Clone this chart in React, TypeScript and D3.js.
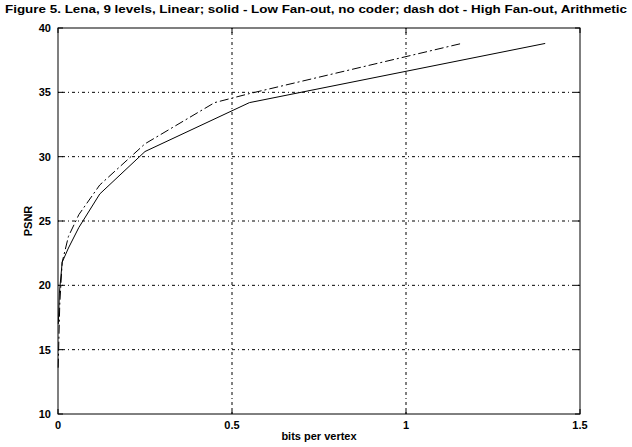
import React, { useEffect, useRef } from 'react';
import * as d3 from 'd3';

// solid - Low Fan-out, no coder
const solidX = [0.001, 0.004, 0.012, 0.03, 0.06, 0.12, 0.25, 0.55, 1.4];
const solidY = [17, 19.4, 21.8, 22.9, 24.5, 27.1, 30.4, 34.2, 38.8];
// dash dot - High Fan-out, Arithmetic
const dashX = [0.0005, 0.005, 0.012, 0.03, 0.06, 0.12, 0.25, 0.45, 0.55, 1.16];
const dashY = [13.6, 18.5, 21.8, 23.8, 25.5, 27.8, 31, 34.2, 34.9, 38.8];

const xTicks = [0, 0.5, 1, 1.5];
const yTicks = [10, 15, 20, 25, 30, 35, 40];

const title = 'Figure 5. Lena, 9 levels, Linear; solid - Low Fan-out, no coder; dash dot - High Fan-out, Arithmetic';

const App = () => {
    const svgRef = useRef<SVGSVGElement>(null);

    useEffect(() => {
        const svg = d3.select(svgRef.current);
        svg.selectAll('*').remove();

        const left = 58, right = 580, top = 28, bottom = 414;
        const x = d3.scaleLinear().domain([0, 1.5]).range([left, right]);
        const y = d3.scaleLinear().domain([10, 40]).range([bottom, top]);
        const font = 'Liberation Sans, Arial, sans-serif';

        svg.append('rect').attr('width', 632).attr('height', 447).attr('fill', '#fff');

        // grid (dash-dot dotted like matlab)
        const gridDash = '1,3,3,3';
        svg.append('g').selectAll('line').data(xTicks.slice(1, -1)).enter().append('line')
            .attr('x1', d => x(d)).attr('x2', d => x(d)).attr('y1', top).attr('y2', bottom)
            .attr('stroke', '#000').attr('stroke-width', 1).attr('stroke-dasharray', gridDash);
        svg.append('g').selectAll('line').data(yTicks.slice(1, -1)).enter().append('line')
            .attr('x1', left).attr('x2', right).attr('y1', d => y(d)).attr('y2', d => y(d))
            .attr('stroke', '#000').attr('stroke-width', 1).attr('stroke-dasharray', gridDash);

        // frame
        svg.append('rect').attr('x', left).attr('y', top).attr('width', right - left).attr('height', bottom - top)
            .attr('fill', 'none').attr('stroke', '#000').attr('stroke-width', 1);

        // inner ticks
        const tl = 5;
        xTicks.forEach(t => {
            svg.append('line').attr('x1', x(t)).attr('x2', x(t)).attr('y1', bottom).attr('y2', bottom - tl).attr('stroke', '#000');
            svg.append('line').attr('x1', x(t)).attr('x2', x(t)).attr('y1', top).attr('y2', top + tl).attr('stroke', '#000');
        });
        yTicks.forEach(t => {
            svg.append('line').attr('x1', left).attr('x2', left + tl).attr('y1', y(t)).attr('y2', y(t)).attr('stroke', '#000');
            svg.append('line').attr('x1', right).attr('x2', right - tl).attr('y1', y(t)).attr('y2', y(t)).attr('stroke', '#000');
        });

        // tick labels
        svg.append('g').selectAll('text').data(xTicks).enter().append('text')
            .attr('x', d => x(d)).attr('y', bottom + 15).attr('text-anchor', 'middle')
            .attr('font-family', font).attr('font-size', 11).attr('font-weight', 'bold')
            .text(d => String(d));
        svg.append('g').selectAll('text').data(yTicks).enter().append('text')
            .attr('x', left - 7).attr('y', d => y(d) + 4).attr('text-anchor', 'end')
            .attr('font-family', font).attr('font-size', 11).attr('font-weight', 'bold')
            .text(d => String(d));

        // lines
        const line = d3.line<[number, number]>().x(d => x(d[0])).y(d => y(d[1]));
        const solid = solidX.map((v, i) => [v, solidY[i]] as [number, number]);
        const dash = dashX.map((v, i) => [v, dashY[i]] as [number, number]);
        svg.append('path').datum(solid).attr('d', line).attr('fill', 'none')
            .attr('stroke', '#000').attr('stroke-width', 1);
        svg.append('path').datum(dash).attr('d', line).attr('fill', 'none')
            .attr('stroke', '#000').attr('stroke-width', 1).attr('stroke-dasharray', '9,3,2,3');

        // labels
        svg.append('text').attr('x', 316).attr('y', 13).attr('text-anchor', 'middle')
            .attr('font-family', font).attr('font-size', 11).attr('font-weight', 'bold')
            .attr('textLength', 622).attr('lengthAdjust', 'spacingAndGlyphs')
            .text(title);
        svg.append('text').attr('x', (left + right) / 2).attr('y', 440).attr('text-anchor', 'middle')
            .attr('font-family', font).attr('font-size', 11).attr('font-weight', 'bold')
            .text('bits per vertex');
        svg.append('text').attr('transform', `translate(32, ${(top + bottom) / 2}) rotate(-90)`)
            .attr('text-anchor', 'middle')
            .attr('font-family', font).attr('font-size', 11).attr('font-weight', 'bold')
            .text('PSNR');
    }, []);

    return (
        <svg ref={svgRef} width={632} height={447}
            style={{ position: 'absolute', left: 0, top: 0, display: 'block' }} />
    );
};

export default App;
